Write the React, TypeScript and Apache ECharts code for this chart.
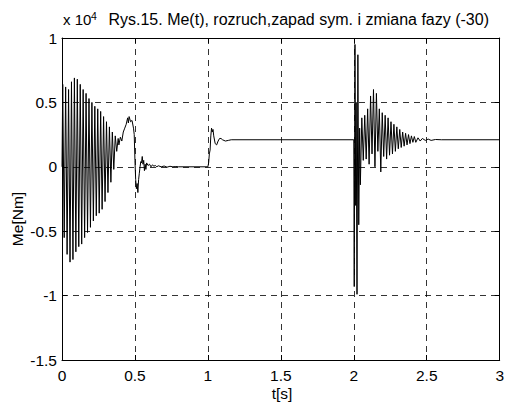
import React, { useEffect, useRef } from "react";
import * as echarts from "echarts";

// Time axis ticks [s] and torque axis ticks [x 10^4 Nm]
const xTicks = [0, 0.5, 1, 1.5, 2, 2.5, 3];
const yTicks = [-1.5, -1, -0.5, 0, 0.5, 1];

// Me(t) in units of 10^4 Nm
// start-up (rozruch) transient
const startupPhase: [number, number][] = [
  [0, 0], [0.005, 0.64], [0.015, -0.55], [0.025, 0.62], [0.035, -0.68],
  [0.045, 0.6], [0.055, -0.74], [0.065, 0.66], [0.075, -0.72], [0.085, 0.69],
  [0.095, -0.66], [0.105, 0.68], [0.115, -0.62], [0.125, 0.64], [0.135, -0.6],
  [0.145, 0.6], [0.155, -0.55], [0.165, 0.57], [0.175, -0.51], [0.185, 0.53],
  [0.195, -0.47], [0.205, 0.5], [0.215, -0.42], [0.225, 0.47], [0.235, -0.38],
  [0.245, 0.45], [0.255, -0.36], [0.265, 0.43], [0.275, -0.33], [0.285, 0.39],
  [0.295, -0.27], [0.305, 0.35], [0.315, -0.2], [0.325, 0.31], [0.335, -0.12],
  [0.345, 0.27], [0.355, -0.02], [0.365, 0.24], [0.375, 0.12], [0.385, 0.22],
  [0.39, 0.17], [0.4, 0.23], [0.41, 0.2], [0.42, 0.27], [0.43, 0.3],
  [0.44, 0.33], [0.45, 0.38], [0.455, 0.34], [0.46, 0.39], [0.47, 0.35],
  [0.48, 0.36], [0.49, 0.3], [0.495, 0.25], [0.5, 0.05], [0.505, -0.1],
  [0.51, -0.17], [0.515, -0.13], [0.52, -0.2], [0.525, -0.1], [0.53, -0.05],
  [0.535, 0.0], [0.54, 0.04], [0.545, 0.03], [0.55, 0.08], [0.555, 0.02],
  [0.56, 0.05], [0.565, -0.03], [0.57, 0.02], [0.575, -0.02], [0.58, 0.03],
  [0.59, 0.01], [0.6, 0.02], [0.61, 0.0], [0.62, 0.015], [0.63, 0.005],
  [0.64, 0.01], [0.65, 0.0], [0.66, 0.008], [0.68, 0.0], [0.7, 0.006],
  [0.72, -0.003], [0.74, 0.004], [0.76, 0.0], [0.78, 0.002], [0.8, 0],
];

// load step at t = 1 s
const loadStep: [number, number][] = [
  [0.8, 0], [1.0, 0], [1.005, 0.03], [1.01, 0.1], [1.015, 0.13], [1.02, 0.24],
  [1.025, 0.3], [1.03, 0.27], [1.035, 0.29], [1.04, 0.24], [1.05, 0.18],
  [1.06, 0.17], [1.07, 0.2], [1.08, 0.22], [1.09, 0.22], [1.1, 0.21],
  [1.12, 0.2], [1.14, 0.205], [1.16, 0.21], [2.0, 0.21],
];

// symmetric sag + phase change at t = 2 s
const sagPhase: [number, number][] = [
  [2.0, 0.21], [2.003, -0.93], [2.008, 0.95], [2.013, -0.3], [2.016, 0.5],
  [2.022, -0.99], [2.028, 0.87], [2.034, -0.45], [2.04, 0.3], [2.045, -0.14],
  [2.055, 0.38], [2.065, 0.05], [2.075, 0.4], [2.085, 0.06], [2.095, 0.45],
  [2.105, 0.02], [2.115, 0.55], [2.125, 0.1], [2.135, 0.6], [2.145, 0.0],
  [2.155, 0.57], [2.165, 0.12], [2.175, 0.45], [2.185, -0.04], [2.195, 0.42],
  [2.205, 0.08], [2.215, 0.4], [2.225, 0.06], [2.235, 0.38], [2.245, 0.09],
  [2.255, 0.35], [2.265, 0.1], [2.275, 0.33], [2.285, 0.12], [2.295, 0.31],
  [2.305, 0.14], [2.315, 0.29], [2.325, 0.15], [2.335, 0.27], [2.345, 0.16],
  [2.355, 0.26], [2.365, 0.17], [2.375, 0.25], [2.385, 0.18], [2.395, 0.24],
  [2.405, 0.19], [2.415, 0.235], [2.425, 0.19], [2.44, 0.225], [2.455, 0.2],
  [2.47, 0.22], [2.49, 0.205], [2.51, 0.215], [2.53, 0.205], [2.56, 0.212],
  [2.6, 0.21], [3.0, 0.21],
];

const titleText = "Rys.15. Me(t), rozruch,zapad sym. i zmiana fazy (-30)";
const FONT = "'Liberation Sans', Arial, Helvetica, sans-serif";

export default function App() {
  const ref = useRef<HTMLDivElement>(null);
  useEffect(() => {
    if (!ref.current) return;
    const chart = echarts.init(ref.current, undefined, { renderer: "svg" });
    const allData = [...startupPhase, ...loadStep.slice(1), ...sagPhase.slice(1)];
    const grid = { left: 62, top: 38, width: 440, height: 322 };
    const fs = 15.5;
    const tickCommon = { show: true, inside: true, length: 5, lineStyle: { color: "#000", width: 1 } };
    const split = { show: true, lineStyle: { color: "#000", type: [6, 5] as any, width: 0.8 } };
    chart.setOption({
      animation: false,
      backgroundColor: "#fff",
      grid: { ...grid, show: false },
      xAxis: [
        {
          type: "value", min: 0, max: 3, interval: 0.5,
          axisLine: { show: true, onZero: false, lineStyle: { color: "#000", width: 1 } },
          axisTick: tickCommon,
          axisLabel: {
            color: "#000", fontSize: fs, fontFamily: FONT, margin: 7,
            formatter: (v: number) => (xTicks.includes(v) ? String(v) : ""),
          },
          splitLine: split,
        },
        {
          type: "value", min: 0, max: 3, interval: 0.5, position: "top",
          axisLine: { show: true, onZero: false, lineStyle: { color: "#000", width: 1 } },
          axisTick: tickCommon, axisLabel: { show: false }, splitLine: { show: false },
        },
      ],
      yAxis: [
        {
          type: "value", min: -1.5, max: 1, interval: 0.5,
          axisLine: { show: true, onZero: false, lineStyle: { color: "#000", width: 1 } },
          axisTick: tickCommon,
          axisLabel: {
            color: "#000", fontSize: fs, fontFamily: FONT, margin: 5,
            formatter: (v: number) => (yTicks.includes(v) ? String(v) : ""),
          },
          splitLine: split,
        },
        {
          type: "value", min: -1.5, max: 1, interval: 0.5, position: "right",
          axisLine: { show: true, onZero: false, lineStyle: { color: "#000", width: 1 } },
          axisTick: tickCommon, axisLabel: { show: false }, splitLine: { show: false },
        },
      ],
      graphic: [
        {
          type: "text", x: 63, y: 27,
          style: { text: "x 10", fontSize: 15, fontFamily: FONT, fill: "#000", textVerticalAlign: "bottom" },
        },
        {
          type: "text", x: 91, y: 21,
          style: { text: "4", fontSize: 10.5, fontFamily: FONT, fill: "#000", textVerticalAlign: "bottom" },
        },
        {
          type: "text", x: 489, y: 27,
          style: { text: titleText, fontSize: 16, fontFamily: FONT, fill: "#000", textAlign: "right", textVerticalAlign: "bottom" },
        },
        {
          type: "text", x: 282, y: 401,
          style: { text: "t[s]", fontSize: fs, fontFamily: FONT, fill: "#000", textAlign: "center", textVerticalAlign: "bottom" },
        },
        {
          type: "text", x: 17, y: 219, rotation: Math.PI / 2,
          style: { text: "Me[Nm]", fontSize: fs, fontFamily: FONT, fill: "#000", textAlign: "center", textVerticalAlign: "middle" },
        },
      ],
      series: [
        {
          type: "line", xAxisIndex: 0, yAxisIndex: 0, data: allData,
          showSymbol: false, symbol: "none",
          lineStyle: { color: "#000", width: 1 },
        },
      ],
    });
    return () => chart.dispose();
  }, []);
  return <div ref={ref} style={{ position: "fixed", left: 0, top: 0, width: 507, height: 403, background: "#fff" }} />;
}
